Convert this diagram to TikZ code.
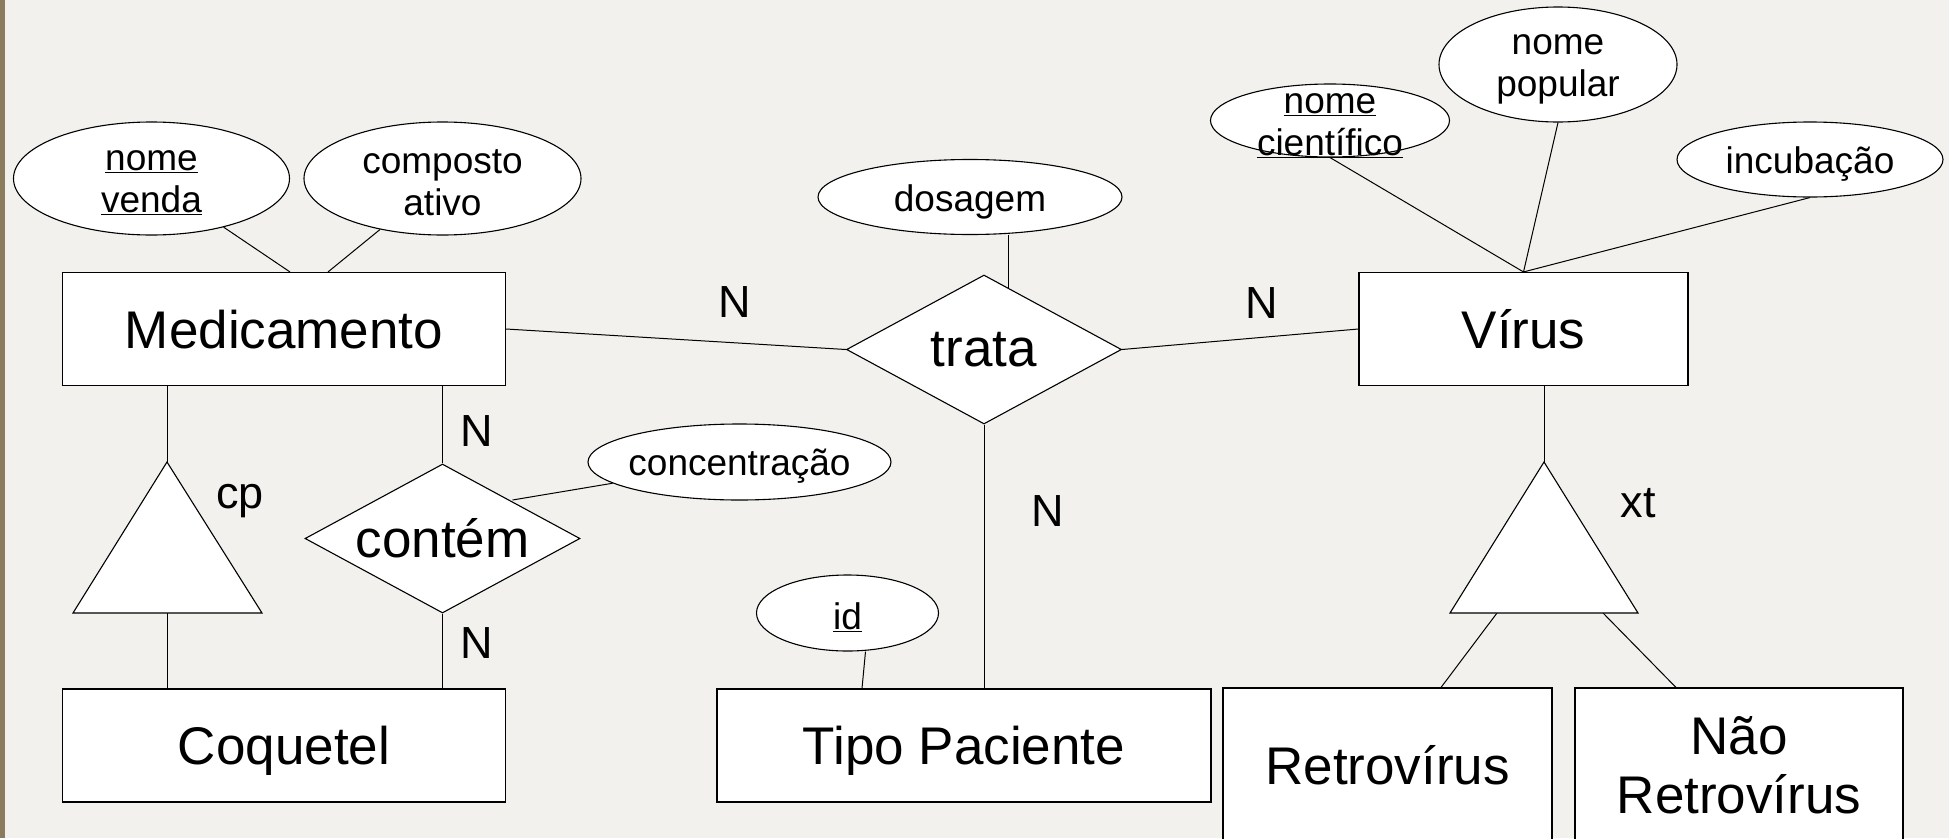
\documentclass[tikz,border=0pt]{standalone}
\usepackage{fontspec}
\setmainfont{Liberation Sans}
\usepackage{tikz}
\usetikzlibrary{shapes.geometric}

\pgfdeclarelayer{back}
\pgfdeclarelayer{edges}
\pgfsetlayers{back,edges,main}

\definecolor{paper}{RGB}{242,241,237}
\definecolor{spine}{RGB}{140,124,94}

\tikzset{
  entity/.style={draw, fill=white, line width=1.1pt, minimum height=113, inner sep=0pt, align=center, font=\fontsize{53}{59}\selectfont},
  oneline/.style={text height=38.7pt, text depth=0pt},
  rel/.style={diamond, draw, fill=white, line width=1.1pt, minimum width=275, minimum height=149, aspect=1.85, inner sep=0pt, font=\fontsize{53}{59}\selectfont},
  attr/.style={ellipse, draw, fill=white, line width=1.1pt, inner sep=0pt},
  attrtext/.style={align=center, inner sep=0pt, yshift=-4.5pt, font=\fontsize{37}{42}\selectfont},
  card/.style={inner sep=0pt, font=\fontsize{45}{50}\selectfont},
  link/.style={line width=1pt},
}

\begin{document}
\begin{tikzpicture}[x=1pt, y=-1pt]
        \useasboundingbox (0,0) rectangle (1949,838);
        \clip (0,0) rectangle (1949,838);
        \begin{pgfonlayer}{back}
        \fill[paper] (0,0) rectangle (1949,838);
        \fill[spine] (0,0) rectangle (4.5,838);
        \end{pgfonlayer}

        % Entities
        \node[entity, oneline, minimum width=443] (medic) at (284,329) {Medicamento};
        \node[entity, oneline, minimum width=443] (coquetel) at (284,745.5) {Coquetel};
        \node[entity, oneline, minimum width=494] (tipo) at (964,745.5) {Tipo Paciente};
        \node[entity, oneline, minimum width=329] (virus) at (1523.5,329) {Vírus};
        \node[entity, oneline, minimum width=329, minimum height=155] (retro) at (1387.5,765.5) {Retrovírus};
        \node[entity, minimum width=328, minimum height=155] (naoretro) at (1739,765.5) {Não\\Retrovírus};

        % Relationships
        \node[rel] (trata) at (984,349.5) {trata};
        \node[rel] (contem) at (442.5,538.5) {contém};

        % Attributes
        \node[attr, minimum width=276, minimum height=113, label={[attrtext]center:{\underline{nome}\\\underline{venda}}}] (nomevenda) at (151.5,178.5) {};
        \node[attr, minimum width=277, minimum height=113, label={[attrtext]center:{composto\\ativo}}] (compativo) at (442.5,178.5) {};
        \node[attr, minimum width=304, minimum height=75, label={[attrtext]center:dosagem}] (dosagem) at (970,197) {};
        \node[attr, minimum width=303, minimum height=76, label={[attrtext]center:concentração}] (concentracao) at (739.5,462) {};
        \node[attr, minimum width=182, minimum height=76, label={[attrtext]center:\underline{id}}] (idattr) at (847.5,613) {};
        \node[attr, minimum width=239, minimum height=73, label={[attrtext, yshift=-1pt]center:{\underline{nome}\\\underline{científico}}}] (nomecien) at (1330,120.5) {};
        \node[attr, minimum width=238, minimum height=115, label={[attrtext]center:{nome\\popular}}] (nomepop) at (1558,64.5) {};
        \node[attr, minimum width=266, minimum height=75, label={[attrtext]center:incubação}] (incub) at (1810,159.5) {};

        % Specialisation triangles
        \coordinate (cptop) at (167,462);
        \coordinate (cpleft) at (73,613);
        \coordinate (cpright) at (262,613);
        \coordinate (cpbase) at (167,613);
        \coordinate (xttop) at (1544,462);
        \coordinate (xtleft) at (1450,613);
        \coordinate (xtright) at (1638,613);
        \coordinate (xtfootl) at (1497,613);
        \coordinate (xtfootr) at (1603,613);
        \coordinate (contemne) at (512.5,500);
        \draw[line width=1.1pt, fill=white] (cptop) -- (cpleft) -- (cpright) -- cycle;
        \draw[line width=1.1pt, fill=white] (xttop) -- (xtleft) -- (xtright) -- cycle;

        % Connectors
        \begin{pgfonlayer}{edges}
        \draw[link] (nomevenda) -- ([xshift=6]medic.north);
        \draw[link] (compativo) -- ([xshift=44]medic.north);
        \draw[link] (medic.east) -- (trata.west);
        \draw[link] (trata.east) -- (virus.west);
        \draw[link] (trata.south) -- (trata.south |- tipo.north);
        \draw[link] ([xshift=38]dosagem.south) -- ([xshift=38]dosagem.south |- trata);
        \draw[link] ([xshift=18]idattr.south) -- ([xshift=-102]tipo.north);
        \draw[link] (medic.south -| cptop) -- (cptop);
        \draw[link] (cpbase) -- (cpbase |- coquetel.north);
        \draw[link] (contem) -- (contem |- medic.south);
        \draw[link] (contem) -- (contem |- coquetel.north);
        \draw[link] (contemne) -- (concentracao);
        \draw[link] (nomecien.south) -- (virus.north);
        \draw[link] (nomepop.south) -- (virus.north);
        \draw[link] (incub.south) -- (virus.north);
        \draw[link] ([xshift=20.5]virus.south) -- (xttop);
        \draw[link] (xtfootl) -- ([xshift=53.5]retro.north);
        \draw[link] (xtfootr) -- ([xshift=-63]naoretro.north);
        \end{pgfonlayer}

        % Cardinalities and labels
        \node[card] (nmedtrata) at (735,302) {N};
        \node[card] (nvirtrata) at (1262,303) {N};
        \node[card] (ntipo) at (1048,511) {N};
        \node[card] (ncontemtop) at (477,431) {N};
        \node[card] (ncontembot) at (477,643) {N};
        \node[card] (cplabel) at (240,501) {cp};
        \node[card] (xtlabel) at (1638,503) {xt};
\end{tikzpicture}
\end{document}
